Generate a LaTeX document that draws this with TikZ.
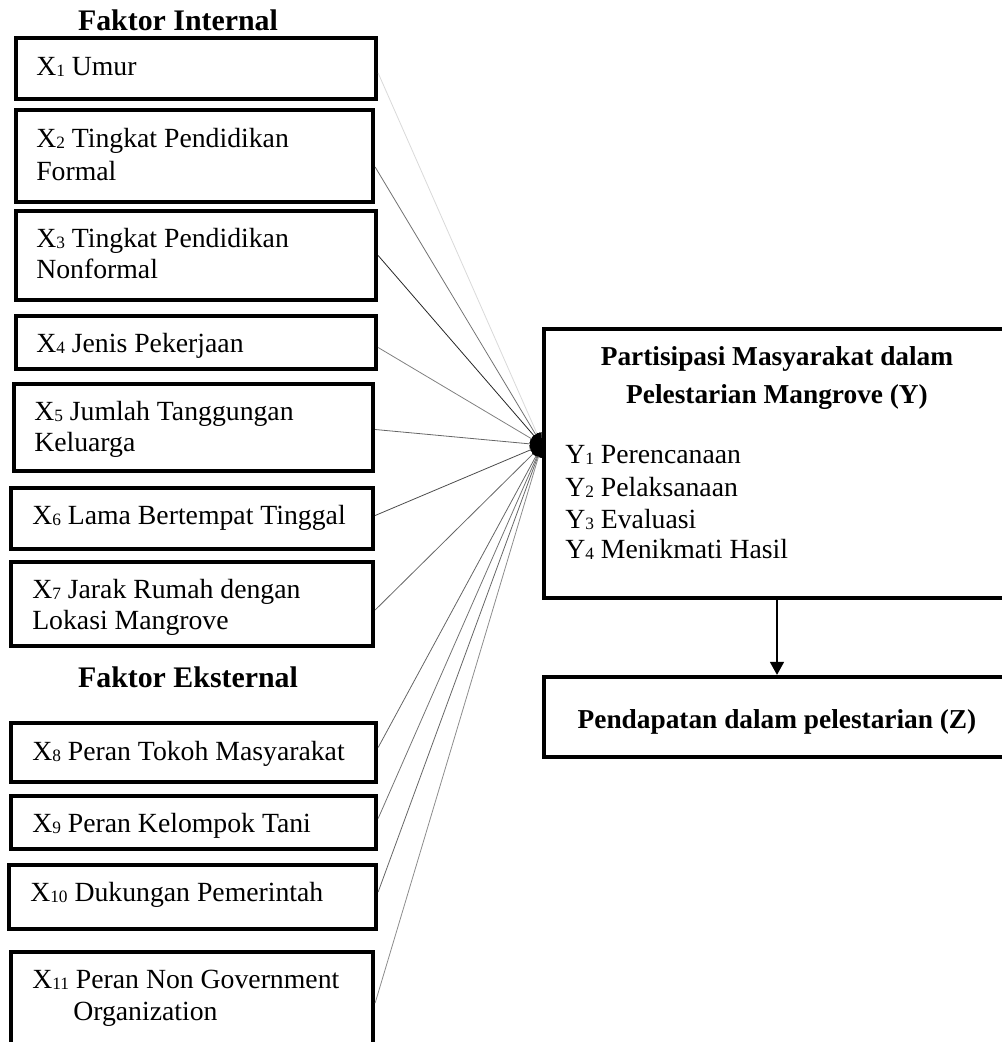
\documentclass[tikz,border=0pt]{standalone}
\usepackage{fontspec}
\setmainfont{Liberation Serif}
\usetikzlibrary{fit,calc,arrows.meta}
\newcommand\mysub[1]{\raisebox{-1.3pt}{\fontsize{13}{13}\selectfont #1}}
\tikzset{
  box/.style={draw=black,line width=3.2pt,inner sep=0pt,fill=none},
  txt/.style={inner sep=0pt,anchor=base west,font=\fontsize{20.8}{24.75}\selectfont},
  ttl/.style={inner sep=0pt,anchor=base,font=\bfseries\fontsize{22.4}{26}\selectfont},
  btx/.style={inner sep=0pt,anchor=base,font=\bfseries\fontsize{20.5}{24.75}\selectfont},
  conn/.style={line width=0.6pt,-{Triangle[length=9pt,width=7pt,color=black]}},
  mainarrow/.style={line width=1.1pt,-{Triangle[length=9.75pt,width=10.5pt]}}
}
\begin{document}
\begin{tikzpicture}[x=0.75pt,y=-0.75pt]
\useasboundingbox (0,0) rectangle (1001,1042);
% titles
\node[ttl] (tint) at (178,30) {Faktor Internal};
\node[ttl] (text) at (188,687) {Faktor Eksternal};
% left boxes
\node[box,fit={(16,38) (376,99)}] (b1) {};
\node[box,fit={(16,110) (373,202)}] (b2) {};
\node[box,fit={(16,211) (376,300)}] (b3) {};
\node[box,fit={(16,316) (376,369)}] (b4) {};
\node[box,fit={(14,384) (373,471)}] (b5) {};
\node[box,fit={(11,488) (373,549)}] (b6) {};
\node[box,fit={(11,562) (373,646)}] (b7) {};
\node[box,fit={(11,723) (376,782)}] (b8) {};
\node[box,fit={(11,796) (376,849)}] (b9) {};
\node[box,fit={(9,865) (376,929)}] (b10) {};
\node[box,fit={(11,952) (373,1048)}] (b11) {};
% left texts
\node[txt] (t1) at (36,75) {X\mysub{1} Umur};
\node[txt] (t2a) at (36,147) {X\mysub{2} Tingkat Pendidikan};
\node[txt] (t2b) at (36,180) {Formal};
\node[txt] (t3a) at (36,247) {X\mysub{3} Tingkat Pendidikan};
\node[txt] (t3b) at (36,278) {Nonformal};
\node[txt] (t4) at (36,352) {X\mysub{4} Jenis Pekerjaan};
\node[txt] (t5a) at (34,420) {X\mysub{5} Jumlah Tanggungan};
\node[txt] (t5b) at (34,451) {Keluarga};
\node[txt] (t6) at (32,524) {X\mysub{6} Lama Bertempat Tinggal};
\node[txt] (t7a) at (32,598) {X\mysub{7} Jarak Rumah dengan};
\node[txt] (t7b) at (32,629) {Lokasi Mangrove};
\node[txt] (t8) at (32,760) {X\mysub{8} Peran Tokoh Masyarakat};
\node[txt] (t9) at (32,832) {X\mysub{9} Peran Kelompok Tani};
\node[txt] (t10) at (30,901) {X\mysub{10} Dukungan Pemerintah};
\node[txt] (t11a) at (32,988) {X\mysub{11} Peran Non Government};
\node[txt] (t11b) at (73,1020) {Organization};
% right boxes
\node[box,fit={(544,329) (1006,598)}] (ybox) {};
\node[box,fit={(544,677) (1006,757)}] (zbox) {};
\node[btx] (yt1) at (777,365) {Partisipasi Masyarakat dalam};
\node[btx] (yt2) at (777,403) {Pelestarian Mangrove (Y)};
\node[txt] (y1) at (565,463) {Y\mysub{1} Perencanaan};
\node[txt] (y2) at (565,496) {Y\mysub{2} Pelaksanaan};
\node[txt] (y3) at (565,528) {Y\mysub{3} Evaluasi};
\node[txt] (y4) at (565,558) {Y\mysub{4} Menikmati Hasil};
\node[btx] (zt) at (777,728) {Pendapatan dalam pelestarian (Z)};
% hub
\coordinate (hub) at (542,445);
% connectors
\draw[conn,draw=black!15] ($(b1.east)+(0,4.5)$) -- (hub);
\draw[conn,draw=black!55] ($(b2.east)+(0,11)$) -- (hub);
\draw[conn,draw=black!85] ($(b3.east)+(0,0)$) -- (hub);
\draw[conn,draw=black!50] ($(b4.east)+(0,5)$) -- (hub);
\draw[conn,draw=black!60] ($(b5.east)+(0,2)$) -- (hub);
\draw[conn,draw=black!70] ($(b6.east)+(0,-3)$) -- (hub);
\draw[conn,draw=black!60] ($(b7.east)+(0,6)$) -- (hub);
\draw[conn,draw=black!60] ($(b8.east)+(0,-5)$) -- (hub);
\draw[conn,draw=black!55] ($(b9.east)+(0,-4)$) -- (hub);
\draw[conn,draw=black!60] ($(b10.east)+(0,-5)$) -- (hub);
\draw[conn,draw=black!45] ($(b11.east)+(0,3)$) -- (hub);
% main arrow
\draw[mainarrow] (ybox.south -| yt1) -- (zbox.north -| yt1);
\end{tikzpicture}
\end{document}
